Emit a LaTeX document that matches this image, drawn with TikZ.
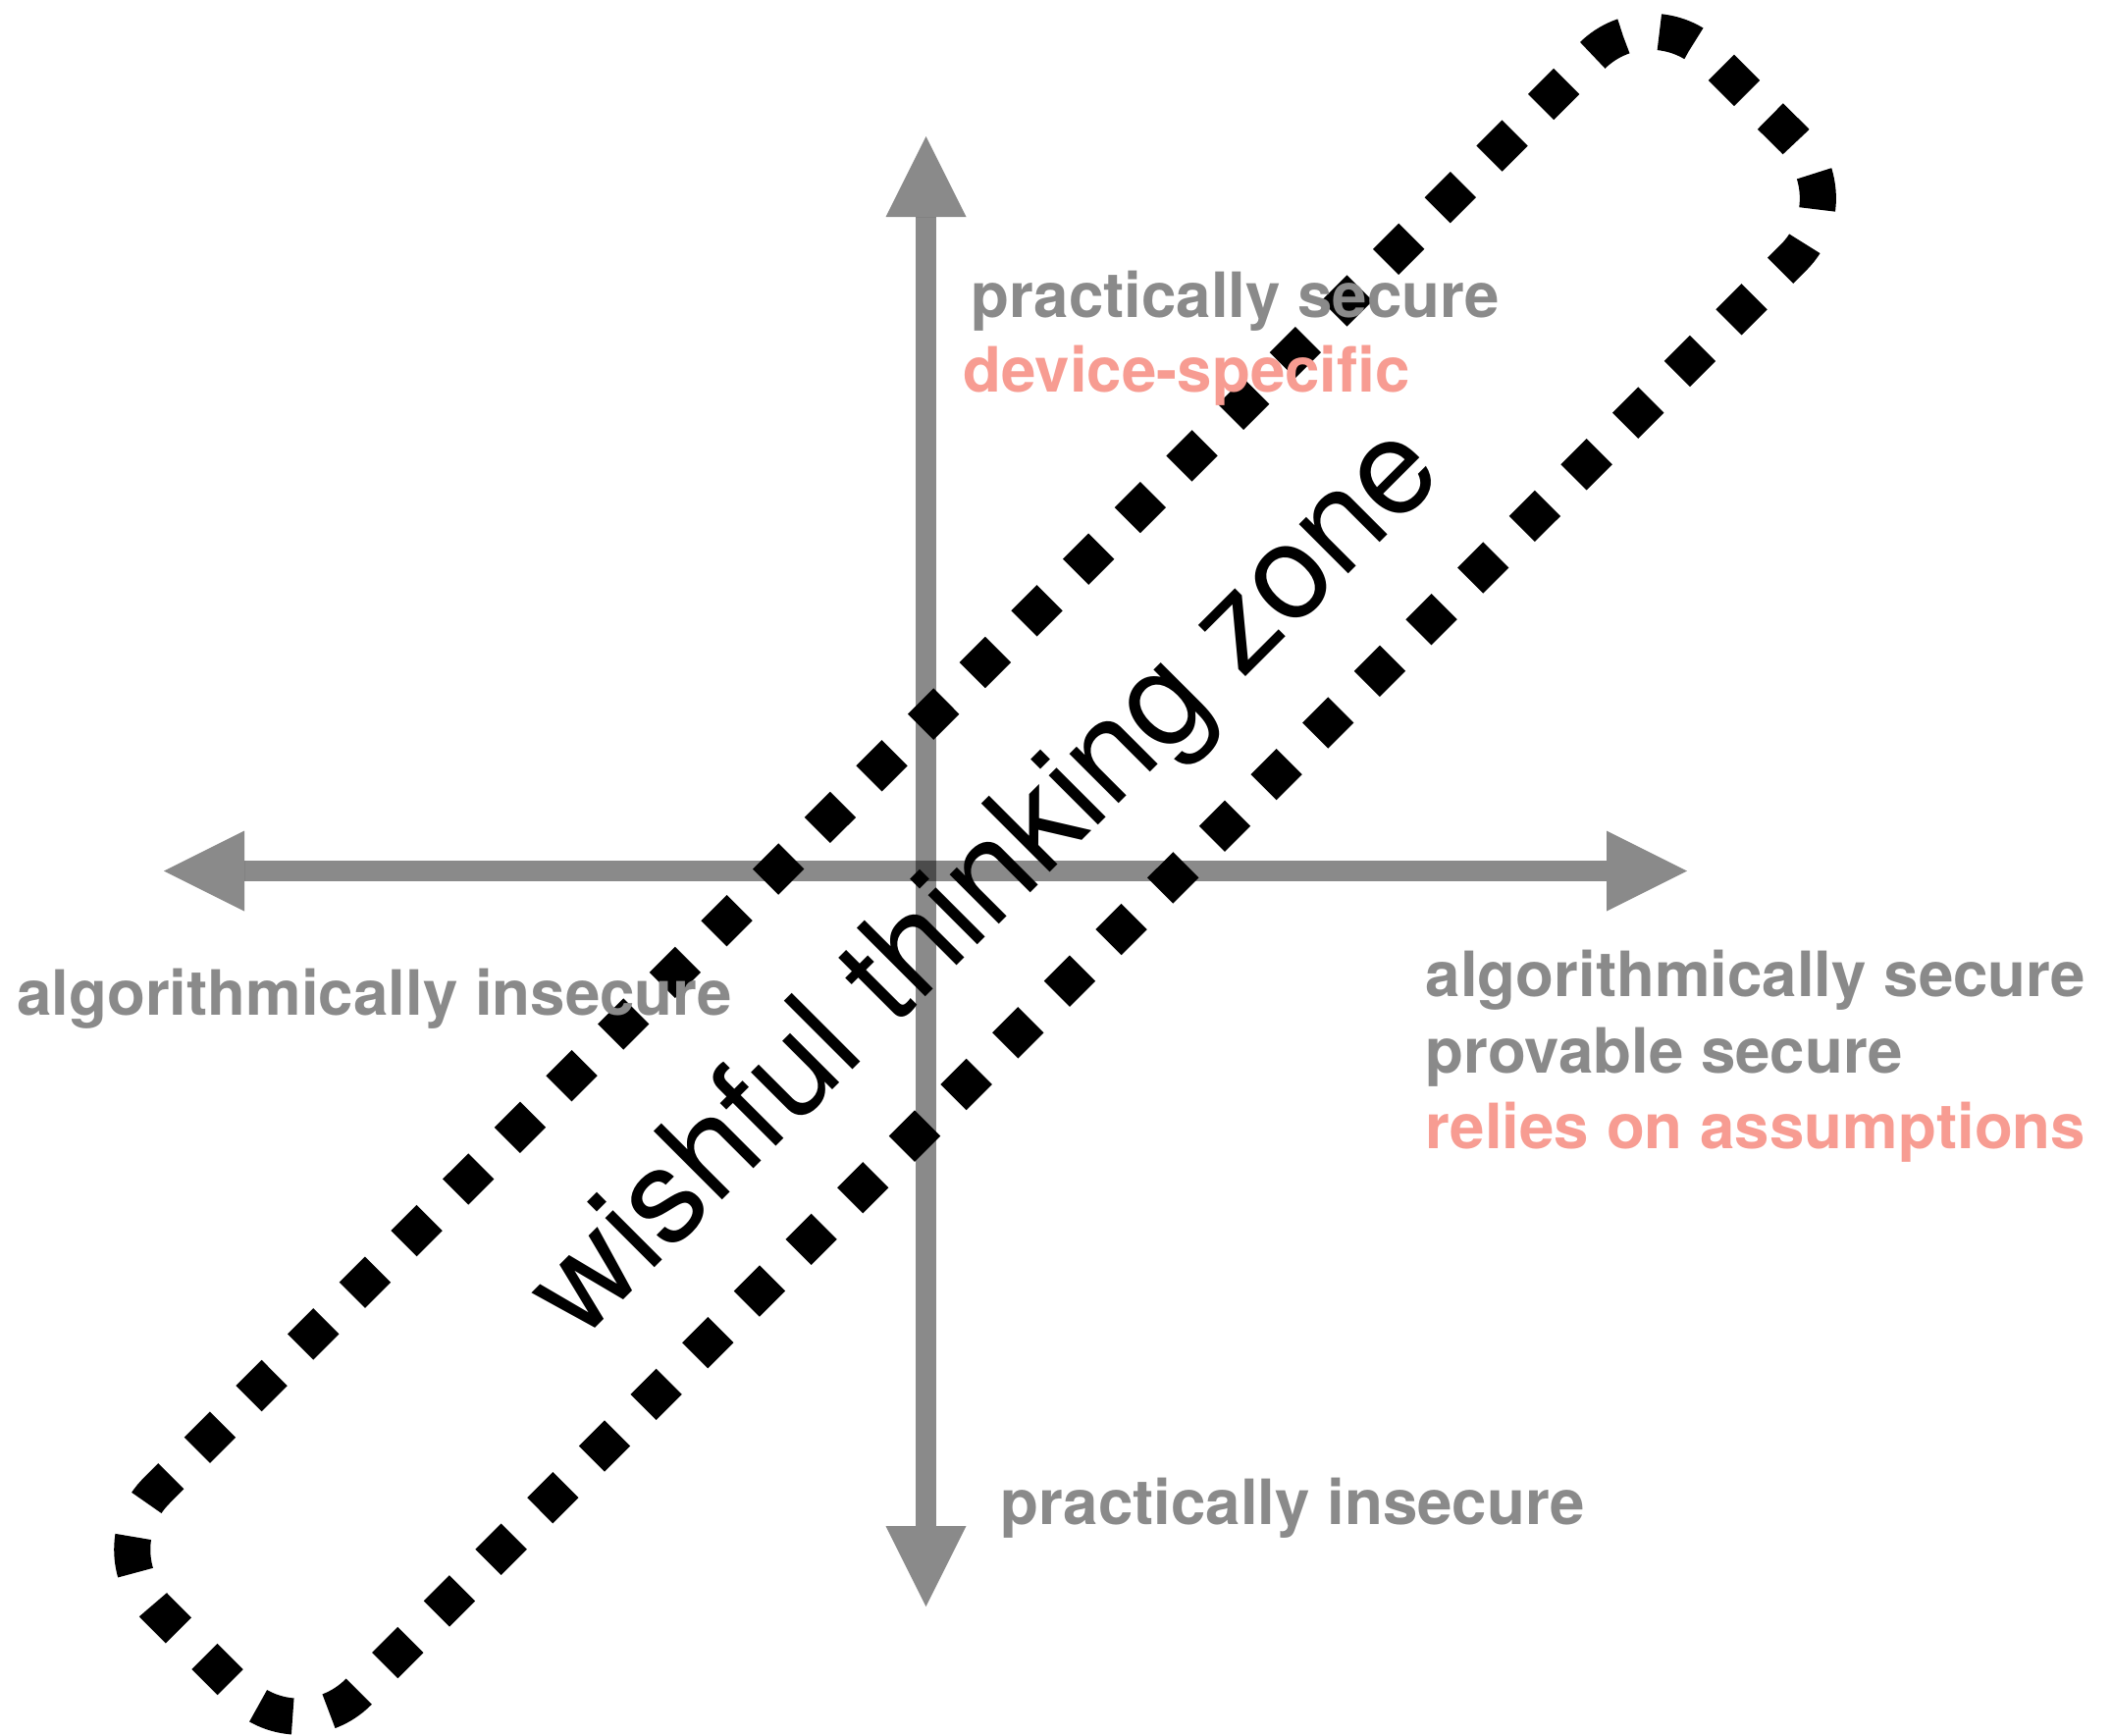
\documentclass[tikz,border=0pt]{standalone}
\usepackage{fontspec}
\setmainfont{TeX Gyre Heros}
\definecolor{labelgray}{RGB}{138,138,138}
\definecolor{salmon}{RGB}{247,156,146}
\begin{document}
\begin{tikzpicture}[x=0.01cm,y=-0.01cm,
  axisline/.style={draw=black, line width=0.21cm, opacity=0.46},
  axishead/.style={fill=black, opacity=0.46},
  zoneline/.style={draw=black, line width=0.37cm, rounded corners=0.85cm,
    dash pattern=on 0.37cm off 0.3742cm, dash phase=0.477cm},
  lbl/.style={anchor=base west, inner sep=0pt,
    font=\fontsize{18.1}{21}\selectfont\bfseries},
  graylbl/.style={lbl, text=labelgray},
  pinklbl/.style={lbl, text=salmon},
  zonelbl/.style={rotate=45, inner sep=0pt,
    font=\fontsize{38.5}{40}\selectfont}]
\useasboundingbox (0,0) rectangle (2151,1768);

% dotted rounded band around the diagonal, starting mid-way along its upper end
\coordinate (zm) at (1784.8,99.7);
\coordinate (zb) at (1887.5,202.4);
\coordinate (zc) at (304.9,1784.4);
\coordinate (zd) at (99.5,1579);
\coordinate (za) at (1682.1,-3);
\path[zoneline] (zm) -- (zb) -- (zc) -- (zd) -- (za) -- (zm);

% axes: shafts and triangular heads
\coordinate (top) at (943.5,139);
\coordinate (bottom) at (943.5,1637);
\coordinate (left) at (167,887.5);
\coordinate (right) at (1719,887.5);
\path[axisline] (943.5,221) -- (943.5,1555);
\path[axisline] (249,887.5) -- (1637,887.5);
\path[axishead] (top) -- (902.5,221) -- (984.5,221) -- cycle;
\path[axishead] (bottom) -- (902.5,1555) -- (984.5,1555) -- cycle;
\path[axishead] (left) -- (249,846.5) -- (249,928.5) -- cycle;
\path[axishead] (right) -- (1637,846.5) -- (1637,928.5) -- cycle;

% labels
\node[graylbl] (psec) at (989,323) {practically secure};
\node[pinklbl] (dev) at (981,399) {device-specific};
\node[graylbl] (ainsec) at (16.5,1034) {algorithmically insecure};
\node[graylbl] (asec) at (1452,1015) {algorithmically secure};
\node[graylbl] (prov) at (1452,1093) {provable secure};
\node[pinklbl] (rel) at (1452,1170) {relies on assumptions};
\node[graylbl] (pinsec) at (1019,1553) {practically insecure};

\node[zonelbl] (zone) at (1008,902) {wishful thinking zone};
\end{tikzpicture}
\end{document}
